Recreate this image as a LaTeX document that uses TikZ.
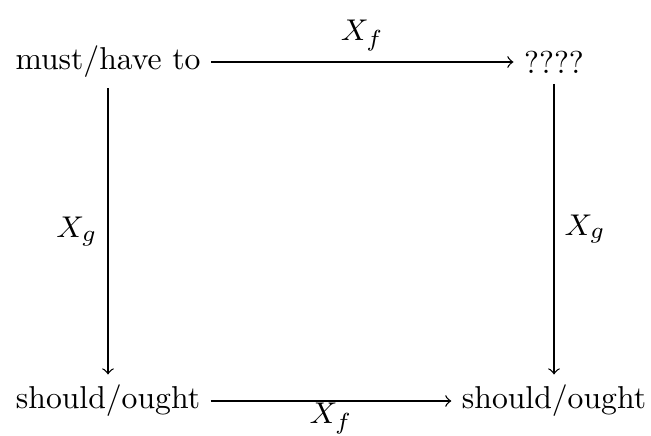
\documentclass[tikz,border=0pt]{standalone}
\usepackage{amsmath}
\usepackage{tikz}
\usetikzlibrary{positioning,arrows}
\tikzset{
  >=to,
  every node/.style={font=\fontsize{9.5pt}{11pt}\selectfont},
  % --- nodes
  obj/.style   = {inner sep=3pt},
  lbl/.style   = {inner sep=3pt},
  % --- edges
  map/.style   = {->, line width=0.4pt, draw=black},
}
\begin{document}
\begin{tikzpicture}[x=0.3pt,y=0.3pt]
  \useasboundingbox (0,0) rectangle (651,436);
  % objects
  \node[obj] (mh) at (108,374) {must/have to};
  \node[obj] (qq) at (554,374) {????};
  \node[obj] (sl) at (108,35)  {should/ought};
  \node[obj] (sr) at (554,35)  {should/ought};
  % maps
  \draw[map] (mh) -- node[lbl, above=0pt] {$X_f$} (qq);
  \draw[map] (sl) -- node[lbl, below=-2.5pt] {$X_f$} (sr);
  \draw[map] (mh) -- node[lbl, left]  {$X_g$} (sl);
  \draw[map] (qq.south -| sr) -- node[lbl, right] {$X_g$} (sr);
\end{tikzpicture}
\end{document}
